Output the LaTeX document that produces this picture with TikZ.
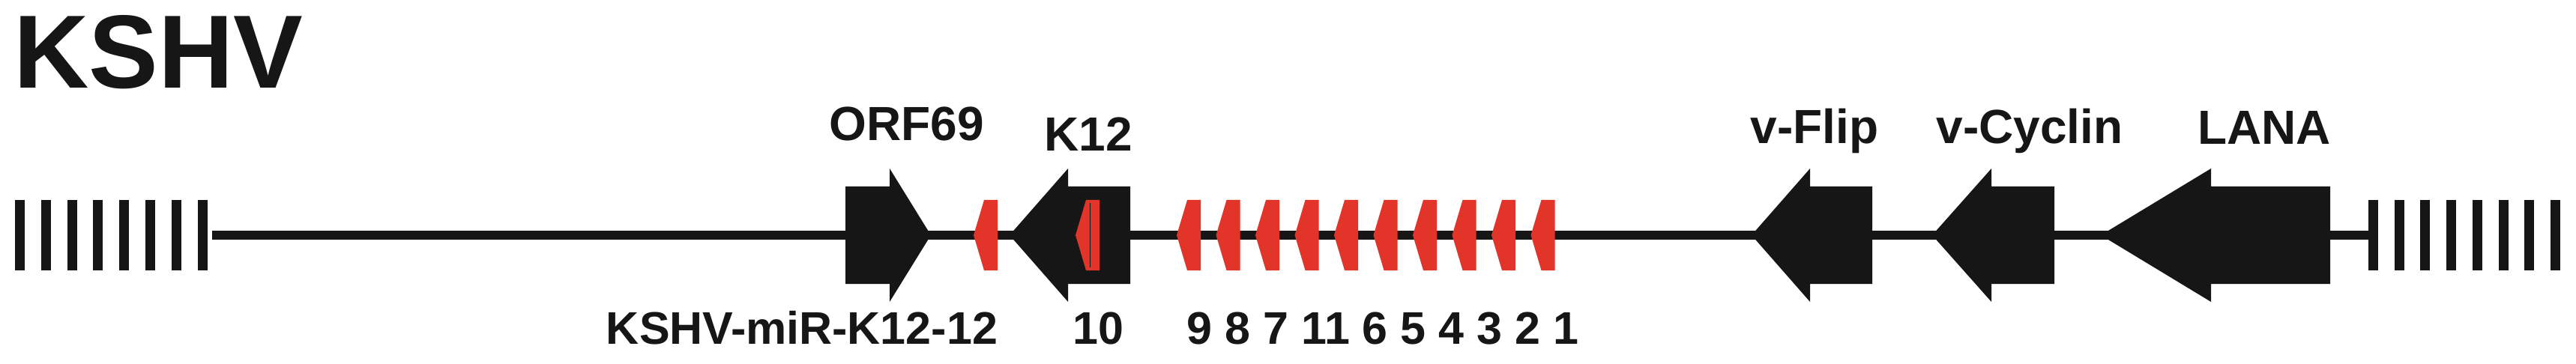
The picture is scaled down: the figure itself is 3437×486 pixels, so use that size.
\documentclass[tikz,border=0pt]{standalone}
\usepackage{fontspec}
\setmainfont{Liberation Sans}
\usepackage{xcolor}
\usepackage{tikz}
\definecolor{ink}{RGB}{22,22,22}
\definecolor{mirred}{RGB}{226,52,40}
\tikzset{
x=1pt, y=-1pt, % one unit is one pixel of the figure, y runs down
backbone/.style={draw=ink, line width=12pt}, % the genome line
endbar/.style={fill=ink}, % the hatched ends of the genome
gene/.style={fill=ink}, % black gene arrows
mir/.style={fill=mirred}, % red miRNA arrows
genelabel/.style={font=\fontsize{64}{70}\selectfont\bfseries, anchor=base, inner sep=0pt, text=ink},
mirlabel/.style={font=\fontsize{61}{66}\selectfont\bfseries, anchor=base, inner sep=0pt, text=ink},
}
% gene pointing left: tip, head base, tail
\newcommand{\leftgene}[3]{\fill[gene] (#3,249) -- (#2,249) -- (#2,225) -- (#1,314) -- (#2,403) -- (#2,379) -- (#3,379) -- cycle;}
% miRNA arrow pointing left, given its tip
\newcommand{\mirarrow}[1]{\fill[mir] (#1,314) -- ({#1+14},267) -- ({#1+32},267) -- ({#1+32},361) -- ({#1+14},361) -- cycle;}

\begin{document}
\begin{tikzpicture}
        \useasboundingbox (0,0) rectangle (3437,486);

        \node[font=\fontsize{139}{145}\selectfont\bfseries, anchor=base west, inner sep=0pt, text=ink] (title) at (18,118) {KSHV};

        % hatched ends
        \foreach \i in {0,...,7} {
            \fill[endbar] ({20+34.8*\i},267) rectangle ({33+34.8*\i},361);
            \fill[endbar] ({3160+34.7*\i},267) rectangle ({3173+34.7*\i},361);
        }
        \coordinate (lend) at (283,314);
        \coordinate (rend) at (3160,314);
        \draw[backbone] (lend) -- (rend);

        % genes
        \fill[gene] (1128,249) -- (1187,249) -- (1187,225) -- (1242,314) -- (1187,403) -- (1187,379) -- (1128,379) -- cycle;
        \leftgene{1347}{1425}{1508}
        \leftgene{2337}{2415}{2498}
        \leftgene{2578}{2657}{2741}
        \leftgene{2803}{2950}{3109}

        % miRNAs
        \mirarrow{1299}
        \mirarrow{1435}
        \draw[ink, line width=1pt] (1454,271) -- (1454,357);
        \foreach \i in {0,...,9} {
            \mirarrow{1570+52.5*\i}
        }

        \node[genelabel] (orf69) at (1210,188) {ORF69};
        \node[genelabel] (k12) at (1452,202) {K12};
        \node[genelabel] (vflip) at (2421,192) {v-Flip};
        \node[genelabel] (vcyclin) at (2708,192) {v-Cyclin};
        \node[genelabel] (lana) at (3021,193) {LANA};

        \node[mirlabel] (mir12) at (1070,459) {KSHV-miR-K12-12};
        \node[mirlabel] (mir10) at (1465,459) {10};
        \node[mirlabel] (mirrest) at (1845,459) {9 8 7 11 6 5 4 3 2 1};
\end{tikzpicture}
\end{document}
